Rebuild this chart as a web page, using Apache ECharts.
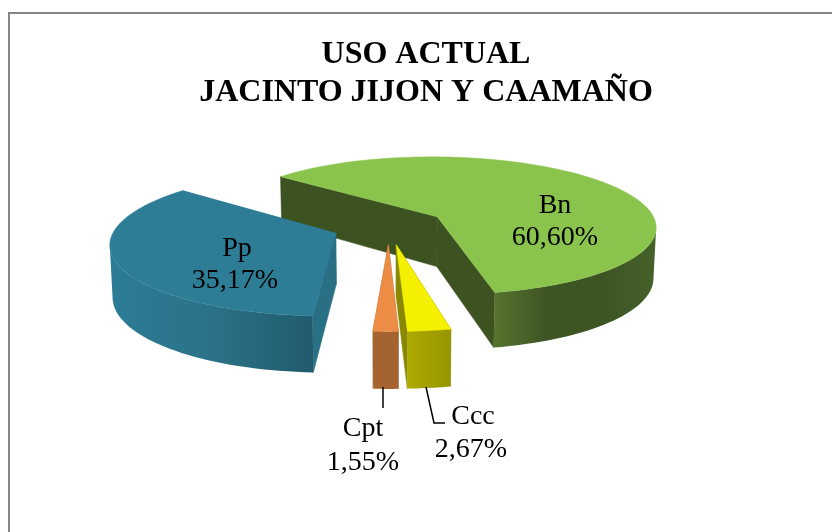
<!DOCTYPE html>
<html><head><meta charset="utf-8">
<style>html,body{margin:0;padding:0;background:#fff}#c{width:832px;height:532px}</style>
<script src="https://cdn.jsdelivr.net/npm/echarts@6/dist/echarts.min.js"></script>
</head><body><div id="c"></div>
<script>
const titleLines = ['USO ACTUAL', 'JACINTO JIJON Y CAAMAÑO'];
const categories = ['Bn', 'Ccc', 'Cpt', 'Pp'];
const shares = [60.60, 2.67, 1.55, 35.17];

// Drawing style and layout (not data)
const firstAngle = -50;          // degrees clockwise from the back of the pie
const explode = 0.26;
const VIEW = {cx: 389, cy: 226, a: 220, b: 70, k: 0.13, depth: 50.5, depthV: 5.5, shrink: 0.99};
const LOOK = {
  Bn:  {top:'#8AC44D', wall:'#3C5221', outer:['#57742F','#3D5423','#3D5423','#46612A'], text:[555,206,555,238]},
  Ccc: {top:'#F5F000', wall:'#8A8800', outer:['#ADAB00','#969500'], text:[473,417,471,450], leader:[[426,387],[434,423],[445,423]]},
  Cpt: {top:'#EC8C45', wall:'#A5642F', outer:['#A5642F','#A5642F'], text:[363,429,363,463], leader:[[383,387],[383,408]]},
  Pp:  {top:'#2D7D96', wall:'#2A7085', outer:['#2C7C96','#2B7288','#215A6C'], text:[237,249,235,281]}
};

const total = shares.reduce((s, v) => s + v, 0);
const rad = d => d * Math.PI / 180;

function project(U, V, lower) {
  const s = 1 / (1 - VIEW.k * V);
  let x = VIEW.cx + VIEW.a * U * s;
  let y = VIEW.cy + VIEW.b * V * s;
  if (lower) {
    x = VIEW.cx + (x - VIEW.cx) * VIEW.shrink;
    y += VIEW.depth + VIEW.depthV * V;
  }
  return [x, y];
}

function renderSlice(params, api) {
  const i = params.dataIndex;
  const value = api.value(1);
  let before = 0;
  for (let j = 0; j < i; j++) before += shares[j];
  const t0 = firstAngle + before / total * 360;
  const t1 = t0 + value / total * 360;
  const m = rad((t0 + t1) / 2);
  const ox = explode * Math.sin(m), oy = -explode * Math.cos(m);
  const pt = (t, lower) => project(ox + Math.sin(rad(t)), oy - Math.cos(rad(t)), lower);
  const apex = lower => project(ox, oy, lower);
  const arc = (a, b, lower) => {
    const n = Math.max(4, Math.ceil(Math.abs(b - a) / 2)), out = [];
    for (let q = 0; q <= n; q++) out.push(pt(a + (b - a) * q / n, lower));
    return out;
  };
  // angle of the left/right silhouette of this slice's rim
  const extreme = (a, b, sign) => {
    let best = a, bestX = -Infinity;
    for (let t = a; t <= b; t += 0.25) {
      const x = sign * pt(t, false)[0];
      if (x > bestX) { bestX = x; best = t; }
    }
    return best;
  };
  const look = LOOK[categories[i]];
  const z = Math.round((-Math.cos(m) + 2) * 10);
  const poly = (points, fill, z2) => ({
    type: 'polygon', z2: z + z2, shape: {points},
    style: {fill, stroke: typeof fill === 'string' ? fill : null, lineWidth: typeof fill === 'string' ? 0.5 : 0}
  });
  const children = [];
  // flat walls on both cut edges
  [t0, t1].forEach(t => children.push(poly([apex(false), pt(t, false), pt(t, true), apex(true)], look.wall, 0)));
  // outer rim, visible part only: from the right silhouette to the left one
  const a = t0 < 180 ? extreme(t0, Math.min(t1, 180), 1) : t0;
  const b = t1 > 180 ? extreme(Math.max(t0, 180), t1, -1) : t1;
  if (b > a) {
    const stops = look.outer.map((c, q) => ({offset: q / (look.outer.length - 1), color: c}));
    children.push(poly(arc(a, b, false).concat(arc(b, a, true)),
      {type: 'linear', x: 0, y: 0, x2: 1, y2: 0, colorStops: stops}, 1));
  }
  // top face
  children.push(poly([apex(false)].concat(arc(t0, t1, false)), look.top, 2));
  // leader
  if (look.leader) {
    children.push({type: 'polyline', z2: 90, shape: {points: look.leader},
      style: {stroke: '#000', lineWidth: 1.5, fill: null}});
  }
  // label
  const pct = value.toFixed(2).replace('.', ',') + '%';
  const font = {fontFamily: '"Liberation Serif"', fontSize: 28, fill: '#000', align: 'center', verticalAlign: 'middle'};
  children.push({type: 'text', z2: 100, style: Object.assign({text: categories[i], x: look.text[0], y: look.text[1]}, font)});
  children.push({type: 'text', z2: 100, style: Object.assign({text: pct, x: look.text[2], y: look.text[3]}, font)});
  return {type: 'group', children};
}

const chart = echarts.init(document.getElementById('c'), null, {renderer: 'canvas', width: 832, height: 532});
chart.setOption({
  animation: false,
  backgroundColor: '#fff',
  title: {
    text: titleLines.join('\n'), left: 421, top: 31, textAlign: 'center',
    textStyle: {fontFamily: '"Liberation Serif"', fontWeight: 'bold', fontSize: 32, lineHeight: 38, color: '#000'}
  },
  graphic: [{type: 'rect', silent: true, shape: {x: 9, y: 13, width: 900, height: 600},
    style: {fill: 'none', stroke: '#868686', lineWidth: 2}}],
  series: [{
    type: 'custom', coordinateSystem: 'none', silent: true,
    data: categories.map((c, i) => [c, shares[i]]),
    renderItem: renderSlice
  }]
});
</script></body></html>
